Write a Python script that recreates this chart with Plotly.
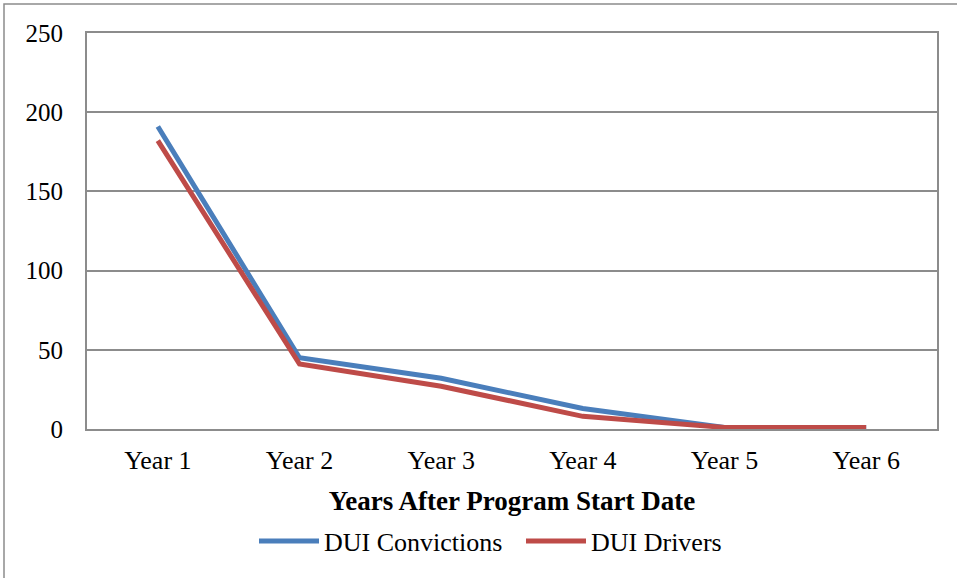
import plotly.graph_objects as go

categories = ["Year 1", "Year 2", "Year 3", "Year 4", "Year 5", "Year 6"]
dui_convictions = [191, 45, 32, 13, 1, 1]
dui_drivers = [182, 41, 27, 8, 1, 1]
y_ticks = [0, 50, 100, 150, 200, 250]

W, H = 957, 578
PL, PR, PT, PB = 87, 937, 33, 429          # on-screen plot box
L, T, R, B = PL, PT, W - PR, H - PB
pw = PR - PL
ph = PB - PT

font = "Liberation Serif"

fig = go.Figure()
fig.add_trace(go.Scatter(x=categories, y=dui_convictions, mode="lines",
                         name="DUI Convictions",
                         line=dict(color="#4A7EBB", width=5)))
fig.add_trace(go.Scatter(x=categories, y=dui_drivers, mode="lines",
                         name="DUI Drivers",
                         line=dict(color="#BE4B48", width=5)))

def px_x(p):
    return (p - PL) / pw

def px_y(p):
    return (PB - p) / ph

fig.update_layout(
    width=W, height=H,
    margin=dict(l=L, r=R, t=T, b=B),
    paper_bgcolor="white", plot_bgcolor="white",
    font=dict(family=font, size=26, color="black"),
    showlegend=True,
    legend=dict(orientation="h", x=px_x(521), xanchor="center", y=px_y(541), yanchor="middle",
                font=dict(family=font, size=26, color="black"), itemwidth=60,
                entrywidth=192, entrywidthmode="pixels", tracegroupgap=0),
    xaxis=dict(type="category", range=[-0.5, 5.5], showgrid=False,
               showline=True, linecolor="#8C8C8C", linewidth=2, mirror=True,
               ticks="", ticklabelstandoff=7,
               tickfont=dict(family=font, size=26),
               title=dict(text="<b>Years After Program Start Date</b>",
                          font=dict(family=font, size=27), standoff=17)),
    yaxis=dict(range=[0, 250], tickvals=y_ticks, showgrid=True, gridcolor="#8C8C8C",
               gridwidth=1.5, zeroline=False,
               showline=True, linecolor="#8C8C8C", linewidth=2, mirror=True,
               ticks="", ticklabelstandoff=17,
               tickfont=dict(family=font, size=25)),
    shapes=[dict(type="rect", xref="paper", yref="paper",
                 x0=px_x(4), x1=px_x(975), y0=px_y(600), y1=px_y(4),
                 line=dict(color="#8C8C8C", width=1.5), layer="below")],
)

fig.write_html("out.html", config={"displayModeBar": False},
               post_script="document.body.style.margin='0';")
